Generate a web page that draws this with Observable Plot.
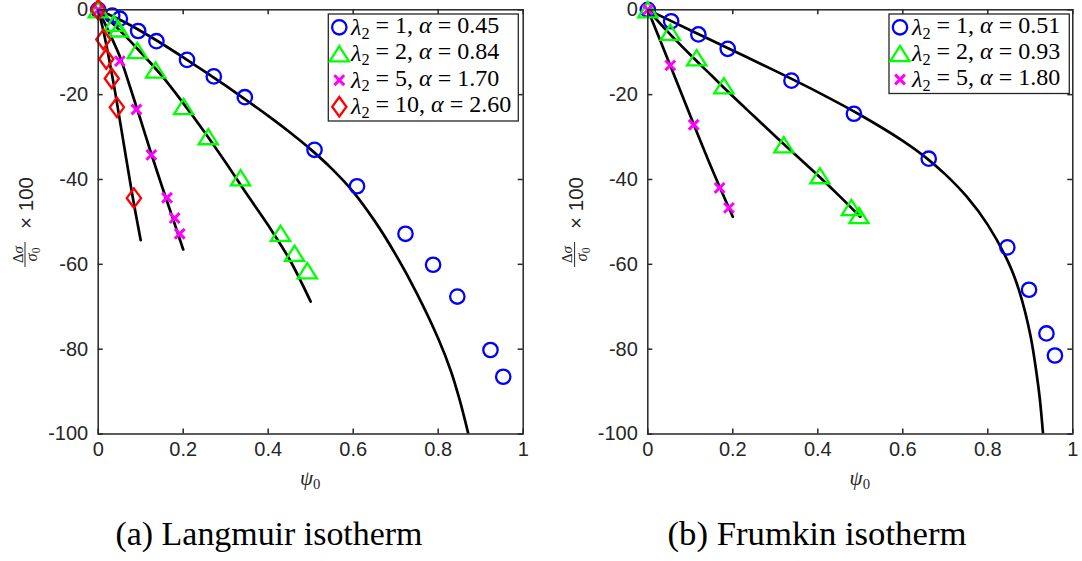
<!DOCTYPE html>
<html><head><meta charset="utf-8">
<script src="https://cdn.jsdelivr.net/npm/d3@7"></script>
<script src="https://cdn.jsdelivr.net/npm/@observablehq/plot@0.6"></script>
<style>
body{margin:0;background:#fff;}
#wrap{position:relative;width:1082px;height:561px;overflow:hidden;background:#fff;}
#left{position:absolute;left:0;top:0;}
#right{position:absolute;left:540px;top:0;}
#overlay{position:absolute;left:0;top:0;pointer-events:none;}
</style></head><body>
<div id="wrap"><div id="left"></div><div id="right"></div><svg id="overlay" width="1082" height="561"></svg></div>
<script>
// ---------- data: [psi0, (Δσ/σ0)×100] ----------
// (a) Langmuir isotherm – measured points
const langL1 = [[0,0],[0.033,-1.35],[0.051,-2.1],[0.094,-5.0],[0.137,-7.4],[0.209,-11.8],[0.272,-15.7],[0.345,-20.6],[0.509,-33.0],[0.609,-41.6],[0.723,-52.8],[0.788,-60.1],[0.845,-67.6],[0.923,-80.2],[0.953,-86.5]];
const langL2 = [[0,0],[0.037,-3.2],[0.048,-4.5],[0.092,-9.6],[0.135,-14.2],[0.201,-22.8],[0.259,-29.9],[0.335,-39.6],[0.429,-52.7],[0.462,-57.4],[0.492,-61.5]];
const langL5 = [[0,0],[0.051,-12.1],[0.090,-23.5],[0.125,-34.2],[0.162,-44.3],[0.180,-49.1],[0.192,-52.8]];
const langL10 = [[0,0],[0.012,-7.0],[0.019,-11.6],[0.032,-16.2],[0.044,-23.0],[0.084,-44.4]];
// (a) Langmuir isotherm – model curves
const langFit1 = [[0,0],[0.05,-2.3],[0.1,-5.0],[0.15,-8.0],[0.2,-11.2],[0.25,-14.5],[0.3,-17.9],[0.35,-21.4],[0.4,-25.0],[0.45,-28.8],[0.5,-32.9],[0.55,-37.5],[0.6,-42.9],[0.65,-49.7],[0.7,-57.7],[0.75,-66.9],[0.8,-77.5],[0.83,-85.2],[0.85,-91.8],[0.871,-100]];
const langFit2 = [[0,0],[0.05,-4.8],[0.1,-10.0],[0.15,-15.6],[0.2,-22.0],[0.25,-28.8],[0.3,-36.0],[0.35,-43.5],[0.4,-50.8],[0.45,-58.8],[0.5,-68.8]];
const langFit5 = [[0,0],[0.025,-5.2],[0.05,-10.8],[0.075,-18.2],[0.1,-26.0],[0.125,-34.0],[0.15,-41.6],[0.175,-49.0],[0.2,-56.5]];
const langFit10 = [[0,0],[0.01,-4.0],[0.02,-8.7],[0.04,-19.5],[0.06,-31.5],[0.08,-43.5],[0.1,-54.3]];
// (b) Frumkin isotherm – measured points
const frumL1 = [[0,0],[0.055,-2.7],[0.119,-5.8],[0.188,-9.2],[0.338,-16.7],[0.485,-24.5],[0.661,-35.1],[0.846,-56.0],[0.897,-66.0],[0.938,-76.3],[0.958,-81.5]];
const frumL2 = [[0,0],[0.053,-5.3],[0.115,-11.3],[0.179,-17.9],[0.320,-31.8],[0.405,-39.1],[0.479,-46.6],[0.497,-48.5]];
const frumL5 = [[0,0],[0.053,-13.1],[0.108,-27.1],[0.169,-42.0],[0.191,-46.7]];
// (b) Frumkin isotherm – model curves
const frumFit1 = [[0,0],[0.1,-4.8],[0.2,-9.6],[0.3,-14.4],[0.4,-19.4],[0.5,-24.8],[0.6,-30.9],[0.65,-34.5],[0.7,-38.8],[0.75,-44.0],[0.8,-50.7],[0.85,-59.9],[0.875,-66.6],[0.9,-76.6],[0.915,-85.9],[0.9225,-91.8],[0.93,-100]];
const frumFit2 = [[0,0],[0.05,-5.5],[0.1,-10.6],[0.15,-15.5],[0.2,-20.4],[0.25,-25.1],[0.3,-29.8],[0.35,-34.4],[0.4,-39.0],[0.45,-43.8],[0.5,-48.8]];
const frumFit5 = [[0,0],[0.05,-12.4],[0.1,-25.0],[0.15,-37.3],[0.2,-48.8]];
// legend entries [λ2, α]
const langLegend = [["1","0.45"],["2","0.84"],["5","1.70"],["10","2.60"]];
const frumLegend = [["1","0.51"],["2","0.93"],["5","1.80"]];
// ticks and captions
const xTicks = [0,0.2,0.4,0.6,0.8,1];
const yTicks = [0,-20,-40,-60,-80,-100];
const captions = ["(a) Langmuir isotherm","(b) Frumkin isotherm"];

// ---------- symbols (MATLAB-like markers) ----------
const symCircle = {draw(c,s){const r=Math.sqrt(s/Math.PI);c.moveTo(r,0);c.arc(0,0,r,0,2*Math.PI);}};
const symTri = {draw(c,s){const r=Math.sqrt(s/Math.PI);c.moveTo(0,-0.95*r);c.lineTo(1.2*r,0.95*r);c.lineTo(-1.2*r,0.95*r);c.closePath();}};
const symCross = {draw(c,s){const r=Math.sqrt(s/Math.PI)*0.7;c.moveTo(-r,-r);c.lineTo(r,r);c.moveTo(r,-r);c.lineTo(-r,r);}};
const symDiamond = {draw(c,s){const r=Math.sqrt(s/Math.PI);c.moveTo(0,-1.3*r);c.lineTo(0.95*r,0);c.lineTo(0,1.3*r);c.lineTo(-0.95*r,0);c.closePath();}};
const styles = [
  {sym:symCircle, color:"#0000ff", r:7.2, sw:2.3},
  {sym:symTri, color:"#00ff00", r:8, sw:2.3},
  {sym:symCross, color:"#ff00ff", r:7, sw:3},
  {sym:symDiamond, color:"#ff0000", r:7.5, sw:2.3}
];

const AX = "#262626";
const H = 500, MT = 9.3, MB = 66.5, PW = 425, PH = H - MT - MB;

function panel(width, ml, pts, fits) {
  const mr = width - ml - PW;
  const marks = [];
  fits.forEach(f => marks.push(Plot.line(f, {x: d=>d[0], y: d=>d[1], stroke:"#000", strokeWidth:2.7, curve:"catmull-rom", clip:true})));
  pts.forEach((p,i) => { const s = styles[i]; marks.push(Plot.dot(p, {x: d=>d[0], y: d=>d[1], symbol: s.sym, r: s.r, stroke: s.color, strokeWidth: s.sw, fill:"none"})); });
  marks.push(
    Plot.frame({stroke:AX, strokeWidth:1.5}),
    Plot.ruleY(yTicks, {y: d=>d, insetRight: PW-5, stroke:AX, strokeWidth:1.5}),
    Plot.ruleY(yTicks, {y: d=>d, insetLeft: PW-5, stroke:AX, strokeWidth:1.5}),
    Plot.ruleX(xTicks, {x: d=>d, insetTop: PH-5, stroke:AX, strokeWidth:1.5}),
    Plot.ruleX(xTicks, {x: d=>d, insetBottom: PH-5, stroke:AX, strokeWidth:1.5}),
    Plot.axisX({ticks: xTicks, tickSize:0, tickPadding:8, tickFormat: d=>String(d), label:null}),
    Plot.axisY({ticks: yTicks, tickSize:0, tickPadding:10, tickFormat: d=>String(d), label:null})
  );
  return Plot.plot({
    width, height:H, marginLeft:ml, marginRight:mr, marginTop:MT, marginBottom:MB,
    x:{domain:[0,1]}, y:{domain:[-100,0]},
    style:{fontFamily:"'Liberation Sans', Arial, sans-serif", fontSize:"20px", color:AX, background:"transparent", overflow:"visible"},
    marks
  });
}

document.getElementById("left").appendChild(panel(540, 97.7, [langL1,langL2,langL5,langL10], [langFit1,langFit2,langFit5,langFit10]));
document.getElementById("right").appendChild(panel(542, 107.3, [frumL1,frumL2,frumL5], [frumFit1,frumFit2,frumFit5]));

// ---------- overlay: axis labels, legends, captions ----------
const ov = d3.select("#overlay");
const SERIF = "'Liberation Serif', 'DejaVu Serif', serif";
const SANS = "'Liberation Sans', Arial, sans-serif";

function fitWidth(sel, target) {
  const fs = parseFloat(sel.attr("font-size"));
  const w = sel.node().getComputedTextLength();
  if (w > 0) sel.attr("font-size", fs * target / w);
}

function yLabel(cx) {
  // rotated label: local +x runs up the page, local +y runs right on the page
  const g = ov.append("g").attr("transform", `translate(${cx},222) rotate(-90)`);
  g.append("line").attr("x1",-45).attr("x2",-20).attr("y1",0).attr("y2",0).attr("stroke",AX).attr("stroke-width",1);
  const n = g.append("text").attr("x",-32.5).attr("y",-2.5).attr("text-anchor","middle").attr("font-family",SERIF).attr("font-size",14).attr("fill",AX);
  n.append("tspan").text("Δ"); n.append("tspan").attr("font-style","italic").text("σ");
  fitWidth(n, 17);
  const dn = g.append("text").attr("x",-32.5).attr("y",12).attr("text-anchor","middle").attr("font-family",SERIF).attr("font-size",14).attr("fill",AX);
  dn.append("tspan").attr("font-style","italic").text("σ"); dn.append("tspan").attr("font-size","70%").attr("dy",3).text("0");
  fitWidth(dn, 14);
  const m = g.append("text").attr("x",45).attr("y",8).attr("text-anchor","end").attr("font-family",SANS).attr("font-size",20).attr("fill",AX).text("× 100");
  fitWidth(m, 52);
}
function xLabel(cx) {
  const t = ov.append("text").attr("x",cx).attr("y",485).attr("text-anchor","middle").attr("font-family",SERIF).attr("font-size",21).attr("fill",AX);
  t.append("tspan").attr("font-style","italic").text("ψ");
  t.append("tspan").attr("font-size","70%").attr("dy",4).text("0");
}
function legend(x0, y0, x1, y1, entries, mx, tx, rowY, targetW, widest) {
  ov.append("rect").attr("x",x0).attr("y",y0).attr("width",x1-x0).attr("height",y1-y0).attr("fill","#fff").attr("stroke",AX).attr("stroke-width",1.3);
  const texts = [];
  entries.forEach((e,i) => {
    const s = styles[i], y = rowY[i];
    ov.append("path").attr("d", d3.symbol(s.sym, Math.PI*s.r*s.r)()).attr("transform",`translate(${mx},${y})`)
      .attr("fill","none").attr("stroke",s.color).attr("stroke-width",s.sw);
    const t = ov.append("text").attr("x",tx).attr("y",y+7.5).attr("font-family",SERIF).attr("font-size",22).attr("fill","#000");
    t.append("tspan").attr("font-style","italic").text("λ");
    t.append("tspan").attr("font-size","68%").attr("dy","0.23em").text("2");
    t.append("tspan").attr("dy","-0.23em").text(` = ${e[0]}, `);
    t.append("tspan").attr("font-style","italic").text("α");
    t.append("tspan").text(` = ${e[1]}`);
    texts.push(t);
  });
  const w = texts[widest].node().getComputedTextLength();
  const fs = Math.max(16, Math.min(24, 22 * targetW / w));
  texts.forEach(t => t.attr("font-size", fs));
}
yLabel(25); yLabel(574.6);
xLabel(310.2); xLabel(859.8);
legend(328.3, 14, 518.3, 121, langLegend, 339.3, 351, [27.3,53.7,80.2,106.7], 161, 3);
legend(889, 14, 1069.3, 93.5, frumLegend, 900, 912, [27.3,53.5,79.5], 153, 0);
[[269,captions[0],307],[817,captions[1],299]].forEach(([cx,txt,tw]) => {
  const c = ov.append("text").attr("x",cx).attr("y",545).attr("text-anchor","middle").attr("font-family",SERIF).attr("font-size",28).attr("fill","#000").text(txt);
  fitWidth(c, tw);
});
</script>
</body></html>
